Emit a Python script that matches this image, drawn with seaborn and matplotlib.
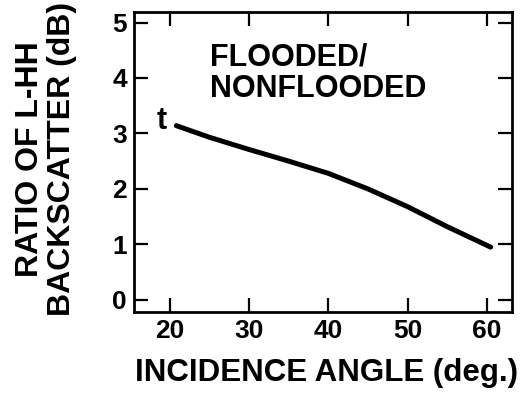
import matplotlib
matplotlib.use("Agg")
import matplotlib.pyplot as plt
import seaborn as sns
import pandas as pd

angle = [20.8, 25, 30, 35, 40, 45, 50, 55, 60.5]
ratio_db = [3.14, 2.93, 2.71, 2.50, 2.28, 2.00, 1.68, 1.32, 0.95]
x_ticks = [20, 30, 40, 50, 60]
y_ticks = [0, 1, 2, 3, 4, 5]

sns.set_theme(style="ticks")
plt.rcParams['font.family'] = ['Liberation Sans', 'DejaVu Sans']
plt.rcParams['font.weight'] = 'bold'
plt.rcParams['text.color'] = 'black'
plt.rcParams['axes.labelcolor'] = 'black'
plt.rcParams['xtick.color'] = 'black'
plt.rcParams['ytick.color'] = 'black'

df = pd.DataFrame({"angle": angle, "ratio": ratio_db})

fig = plt.figure(figsize=(5.28, 4.04), dpi=100)
ax = fig.add_axes([134/528, 1 - 312/404, (512-134)/528, (312-12)/404])

sns.lineplot(data=df, x="angle", y="ratio", ax=ax, color="black", linewidth=3.6)

ax.set_xlim(15.45, 63.2)
ax.set_ylim(-0.22, 5.19)
ax.set_xticks(x_ticks)
ax.set_yticks(y_ticks)
ax.tick_params(direction="in", length=10, width=1.6, top=True, right=True,
               labelsize=19, pad=5, colors="black")
for lab in ax.get_xticklabels() + ax.get_yticklabels():
    lab.set_fontweight("bold")
for s in ax.spines.values():
    s.set_linewidth(2)
    s.set_color("black")

ax.set_xlabel("INCIDENCE ANGLE (deg.)", fontsize=22.5, fontweight="bold",
              color="black", va="top")
ax.xaxis.set_label_coords(0.51, -0.155)
ax.set_ylabel("RATIO OF L-HH\nBACKSCATTER (dB)", fontsize=23, fontweight="bold",
              color="black", linespacing=1.1)
ax.yaxis.set_label_coords(-0.15, 0.51)

ax.text(19.0, 3.22, "t", fontsize=22, fontweight="bold", ha="center", va="center",
        color="black")
ax.text(25.0, 4.234, "FLOODED/", fontsize=22, fontweight="bold",
        ha="left", va="baseline", color="black")
ax.text(25.0, 3.658, "NONFLOODED", fontsize=22, fontweight="bold",
        ha="left", va="baseline", color="black")

fig.savefig("out.png", dpi=100)
